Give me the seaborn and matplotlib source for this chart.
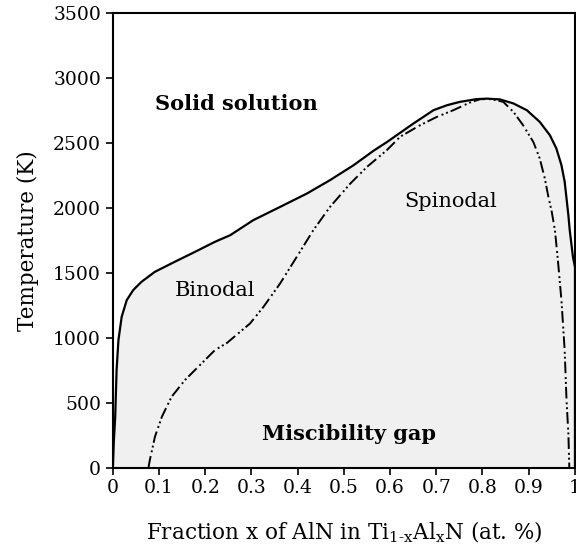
import numpy as np
import pandas as pd
import matplotlib
matplotlib.use("Agg")
import matplotlib.pyplot as plt
import seaborn as sns

# Binodal curve (solid)
binodal_x = [0.0, 0.002, 0.005, 0.008, 0.012, 0.019, 0.03, 0.044, 0.062, 0.091, 0.134,
             0.178, 0.221, 0.254, 0.304, 0.362, 0.42, 0.47, 0.521, 0.564, 0.593, 0.65,
             0.694, 0.723, 0.751, 0.787, 0.81, 0.838, 0.867, 0.896, 0.924, 0.946, 0.96,
             0.971, 0.978, 0.982, 0.986, 0.989, 0.996, 1.0]
binodal_T = [0, 200, 391, 751, 982, 1161, 1290, 1367, 1431, 1508, 1585,
             1662, 1739, 1790, 1906, 2008, 2111, 2214, 2329, 2440, 2507, 2649,
             2753, 2791, 2817, 2838, 2842, 2836, 2805, 2753, 2663, 2560, 2458,
             2329, 2201, 2073, 1944, 1826, 1620, 1550]

# Spinodal curve (dash-dot-dot)
spinodal_x = [0.077, 0.08, 0.091, 0.106, 0.127, 0.156, 0.192, 0.221, 0.247, 0.297,
              0.326, 0.362, 0.398, 0.434, 0.47, 0.514, 0.55, 0.593, 0.622, 0.665,
              0.701, 0.737, 0.773, 0.795, 0.82, 0.845, 0.867, 0.888, 0.91, 0.924,
              0.935, 0.942, 0.95, 0.957, 0.964, 0.971, 0.978, 0.982, 0.986, 0.988]
spinodal_T = [0, 58, 237, 391, 545, 674, 802, 905, 960, 1110,
              1238, 1418, 1623, 1829, 2008, 2188, 2316, 2445, 2549, 2637,
              2701, 2753, 2812, 2838, 2838, 2817, 2740, 2637, 2509, 2381,
              2227, 2098, 1970, 1826, 1569, 1287, 901, 516, 260, 0]

x_ticks = [0, 0.1, 0.2, 0.3, 0.4, 0.5, 0.6, 0.7, 0.8, 0.9, 1]
x_tick_labels = ["0", "0.1", "0.2", "0.3", "0.4", "0.5", "0.6", "0.7", "0.8", "0.9", "1"]
y_ticks = [0, 500, 1000, 1500, 2000, 2500, 3000, 3500]

sns.set_style("ticks")
plt.rcParams['font.family'] = ['DejaVu Serif']
plt.rcParams['mathtext.fontset'] = 'dejavuserif'
plt.rcParams['text.color'] = 'black'
plt.rcParams['axes.labelcolor'] = 'black'
plt.rcParams['xtick.color'] = 'black'
plt.rcParams['ytick.color'] = 'black'

fig = plt.figure(figsize=(5.76, 5.51), dpi=100)
ax = fig.add_axes([0.196, 0.1515, 0.802, 0.8245])

bdf = pd.DataFrame({"x": binodal_x, "T": binodal_T})
sdf = pd.DataFrame({"x": spinodal_x, "T": spinodal_T})

ax.fill_between(binodal_x, binodal_T, 0, color="#f0f0f0", zorder=0, linewidth=0)
sns.lineplot(data=bdf, x="x", y="T", ax=ax, color="black", linewidth=1.6, sort=False)
sns.lineplot(data=sdf, x="x", y="T", ax=ax, color="black", linewidth=1.4, sort=False,
             linestyle=(0, (6, 2, 1, 1.5, 1, 1.5)))
ax.plot([1, 1], [0, binodal_T[-1]], color="black", linewidth=1.6)

ax.set_xlim(0, 1)
ax.set_ylim(0, 3500)
ax.set_xticks(x_ticks)
ax.set_xticklabels(x_tick_labels)
ax.set_yticks(y_ticks)
ax.tick_params(axis="both", labelsize=13.5, direction="out", length=5, width=1.2,
               colors="black", labelcolor="black")
for s in ax.spines.values():
    s.set_linewidth(1.5)
    s.set_color("black")

ax.set_xlabel(r"Fraction x of AlN in Ti$_{\mathregular{1\text{-}x}}$Al$_{\mathregular{x}}$N (at. %)",
              fontsize=15.5, labelpad=16, color="black")
ax.set_ylabel("Temperature (K)", fontsize=15.5, labelpad=10, color="black")

ax.text(0.267, 2800, "Solid solution", fontsize=15, fontweight="bold", ha="center", va="center")
ax.text(0.511, 258, "Miscibility gap", fontsize=15, fontweight="bold", ha="center", va="center")
ax.text(0.222, 1367, "Binodal", fontsize=15, ha="center", va="center")
ax.text(0.732, 2052, "Spinodal", fontsize=15, ha="center", va="center")

fig.savefig("out.png", dpi=100)
